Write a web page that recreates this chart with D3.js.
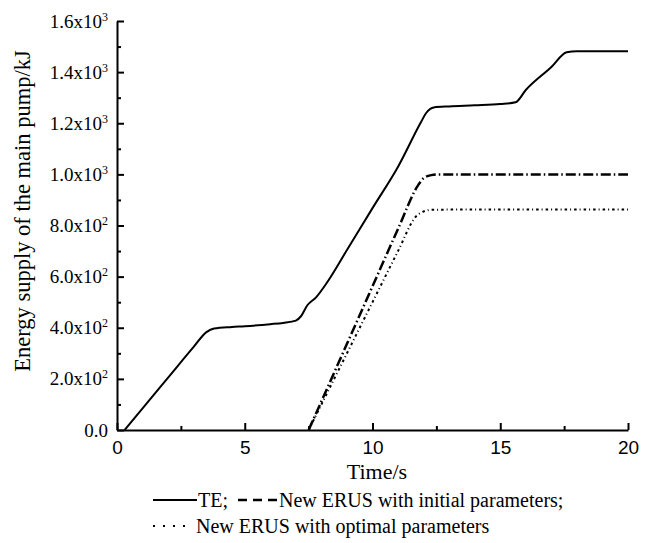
<!DOCTYPE html>
<html>
<head>
<meta charset="utf-8">
<script src="https://cdn.jsdelivr.net/npm/d3@7"></script>
<style>
  body { margin: 0; background: #fff; }
  svg { font-family: "Liberation Serif", "Times New Roman", serif; }
</style>
</head>
<body>
<script>
// values (time in s, energy in kJ)
var teData = [[0.3,0],[1,85],[2,205],[3,325],[3.5,383],[3.8,397],[4.5,403],[5,406],[6,414],[6.5,419],[7,428],
  [7.2,445],[7.45,488],[7.8,520],[8.2,574],[9,704],[10,868],[11,1030],[11.9,1205],[12.1,1240],[12.4,1262],
  [13,1266],[14,1270],[15,1275],[15.6,1282],[16,1330],[17,1420],[17.6,1478],[18,1482],[20,1482]];
var initData = [[7.5,0],[8,112],[9,337],[10,562],[11,787],[11.8,960],[12,985],[12.3,997],[12.6,1000],[20,1000]];
var optData = [[7.5,0],[8,100],[9,300],[10,500],[11,700],[11.7,835],[12,855],[12.4,862],[20,863]];

var xTicks = [0, 5, 10, 15, 20];
var xMinor = [2.5, 7.5, 12.5, 17.5];
var yTicks = [0, 200, 400, 600, 800, 1000, 1200, 1400, 1600];
var yMinor = [100, 300, 500, 700, 900, 1100, 1300, 1500];
var yLabels = [["0.0", ""], ["2.0x10", "2"], ["4.0x10", "2"], ["6.0x10", "2"], ["8.0x10", "2"],
  ["1.0x10", "3"], ["1.2x10", "3"], ["1.4x10", "3"], ["1.6x10", "3"]];

var svg = d3.select("body").append("svg").attr("width", 648).attr("height", 543);

var x = d3.scaleLinear().domain([0, 20]).range([117, 628]);
var y = d3.scaleLinear().domain([0, 1600]).range([430, 21]);

// axes with inward ticks
var gx = svg.append("g").attr("transform", "translate(0,430)")
  .call(d3.axisBottom(x).tickValues(xTicks).tickSizeInner(-7).tickSizeOuter(0).tickPadding(11).tickFormat(d3.format("d")));
svg.append("g").attr("transform", "translate(0,430)")
  .call(d3.axisBottom(x).tickValues(xMinor).tickSizeInner(-4).tickSizeOuter(0).tickFormat(""))
  .select(".domain").remove();
gx.selectAll("text").attr("font-size", 19).attr("fill", "#000");

var gy = svg.append("g").attr("transform", "translate(117,0)")
  .call(d3.axisLeft(y).tickValues(yTicks).tickSizeInner(-7).tickSizeOuter(0).tickFormat(""));
svg.append("g").attr("transform", "translate(117,0)")
  .call(d3.axisLeft(y).tickValues(yMinor).tickSizeInner(-4).tickSizeOuter(0).tickFormat(""))
  .select(".domain").remove();

svg.selectAll(".domain, .tick line").attr("stroke", "#000").attr("stroke-width", 2);

// y tick labels with superscript exponent
var lab = svg.append("g").selectAll("text").data(yTicks).enter().append("text")
  .attr("x", 108).attr("y", function(d) { return y(d) + 6.5; })
  .attr("text-anchor", "end").attr("font-size", 19);
lab.append("tspan").text(function(d, i) { return yLabels[i][0]; });
lab.append("tspan").attr("dy", -7).attr("font-size", 12).text(function(d, i) { return yLabels[i][1]; });

// axis titles
svg.append("text").attr("x", 377).attr("y", 479).attr("text-anchor", "middle")
  .attr("font-size", 22).text("Time/s");
svg.append("text").attr("transform", "translate(30,211) rotate(-90)").attr("text-anchor", "middle")
  .attr("font-size", 22.5).text("Energy supply of the main pump/kJ");

// curves
var line = d3.line().x(function(d) { return x(d[0]); }).y(function(d) { return y(d[1]); })
  .curve(d3.curveMonotoneX);

svg.append("path").datum(teData).attr("d", line).attr("fill", "none")
  .attr("stroke", "#000").attr("stroke-width", 2);
svg.append("path").datum(initData).attr("d", line).attr("fill", "none")
  .attr("stroke", "#000").attr("stroke-width", 2.5).attr("stroke-dasharray", "10,3,1.5,3");
svg.append("path").datum(optData).attr("d", line).attr("fill", "none")
  .attr("stroke", "#000").attr("stroke-width", 2).attr("stroke-dasharray", "2.5,3,1,3");

// legend
var leg = svg.append("g");
leg.append("line").attr("x1", 153).attr("x2", 197).attr("y1", 500).attr("y2", 500)
  .attr("stroke", "#000").attr("stroke-width", 2);
leg.append("text").attr("x", 198).attr("y", 507).attr("font-size", 20).text("TE;");
leg.append("line").attr("x1", 238).attr("x2", 278).attr("y1", 500).attr("y2", 500)
  .attr("stroke", "#000").attr("stroke-width", 2.5).attr("stroke-dasharray", "9,6");
leg.append("text").attr("x", 279).attr("y", 507).attr("font-size", 20).text("New ERUS with initial parameters;");
leg.append("line").attr("x1", 153).attr("x2", 190).attr("y1", 526).attr("y2", 526)
  .attr("stroke", "#000").attr("stroke-width", 2).attr("stroke-dasharray", "2,8");
leg.append("text").attr("x", 196).attr("y", 533).attr("font-size", 20).text("New ERUS with optimal parameters");
</script>
</body>
</html>
